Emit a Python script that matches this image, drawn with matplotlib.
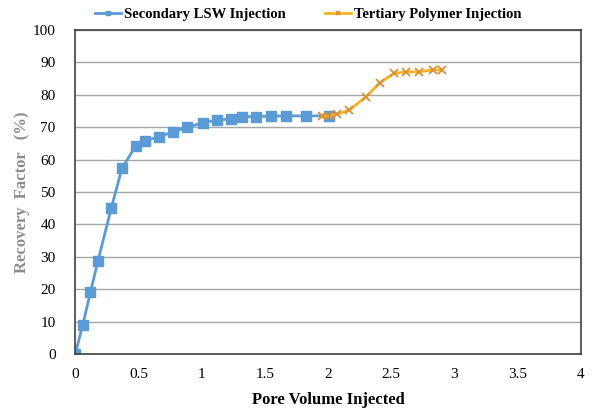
import matplotlib
matplotlib.use("Agg")
import matplotlib.pyplot as plt

plt.rcParams['font.family'] = ['Liberation Serif', 'DejaVu Serif']

# secondary low salinity water injection
pv_lsw = [0, 0.06, 0.12, 0.18, 0.285, 0.37, 0.48, 0.556, 0.666, 0.777, 0.888, 1.01,
          1.12, 1.23, 1.32, 1.43, 1.55, 1.67, 1.83, 2.01]
rf_lsw = [0, 9, 19, 28.7, 45, 57.3, 64.3, 65.8, 67.1, 68.6, 70, 71.4,
          72.2, 72.6, 73.2, 73.3, 73.4, 73.5, 73.5, 73.5]

# tertiary polymer injection
pv_poly = [1.95, 2.01, 2.07, 2.17, 2.30, 2.41, 2.52, 2.62, 2.72, 2.83, 2.90]
rf_poly = [73.5, 73.5, 74, 75.3, 79.4, 83.7, 86.6, 87.1, 87.1, 87.7, 87.7]

fig = plt.figure(figsize=(5.92, 4.17), dpi=100)
ax = fig.add_axes([0.127, 0.151, 0.854, 0.777])

ax.plot(pv_lsw, rf_lsw, color='#5b9bd5', lw=2, marker='s', ms=7,
        label='Secondary LSW Injection')
ax.plot(pv_poly, rf_poly, color='#f5b325', lw=2, marker='x', ms=6,
        mec='#d9903a', mew=1.3, label='Tertiary Polymer Injection')

ax.set_xlim(0, 4)
ax.set_ylim(0, 100)
ax.set_xticks([0, 0.5, 1, 1.5, 2, 2.5, 3, 3.5, 4])
ax.set_xticklabels(['0', '0.5', '1', '1.5', '2', '2.5', '3', '3.5', '4'])
ax.set_yticks(range(0, 101, 10))
ax.tick_params(length=0, labelsize=11)
ax.tick_params(axis='y', pad=14)
ax.tick_params(axis='x', pad=10)
ax.grid(axis='y', color='#a6a6a6', lw=1)
ax.set_axisbelow(True)
for s in ax.spines.values():
    s.set_color('#404040')
    s.set_linewidth(1.2)

ax.set_xlabel('Pore Volume Injected', fontsize=12, fontweight='bold', labelpad=8)
ax.set_ylabel('Recovery  Factor   (%)', fontsize=12, fontweight='bold', color='#8c8c8c', labelpad=2)

leg = fig.legend(loc='center left', bbox_to_anchor=(0.16, 0.966), ncol=2, frameon=False,
                 prop={'weight': 'bold', 'size': 10.5}, handlelength=1.8, markerscale=0.5,
                 columnspacing=2.7, borderaxespad=0, borderpad=0, handletextpad=0.2)

fig.savefig('out.png', dpi=100)
